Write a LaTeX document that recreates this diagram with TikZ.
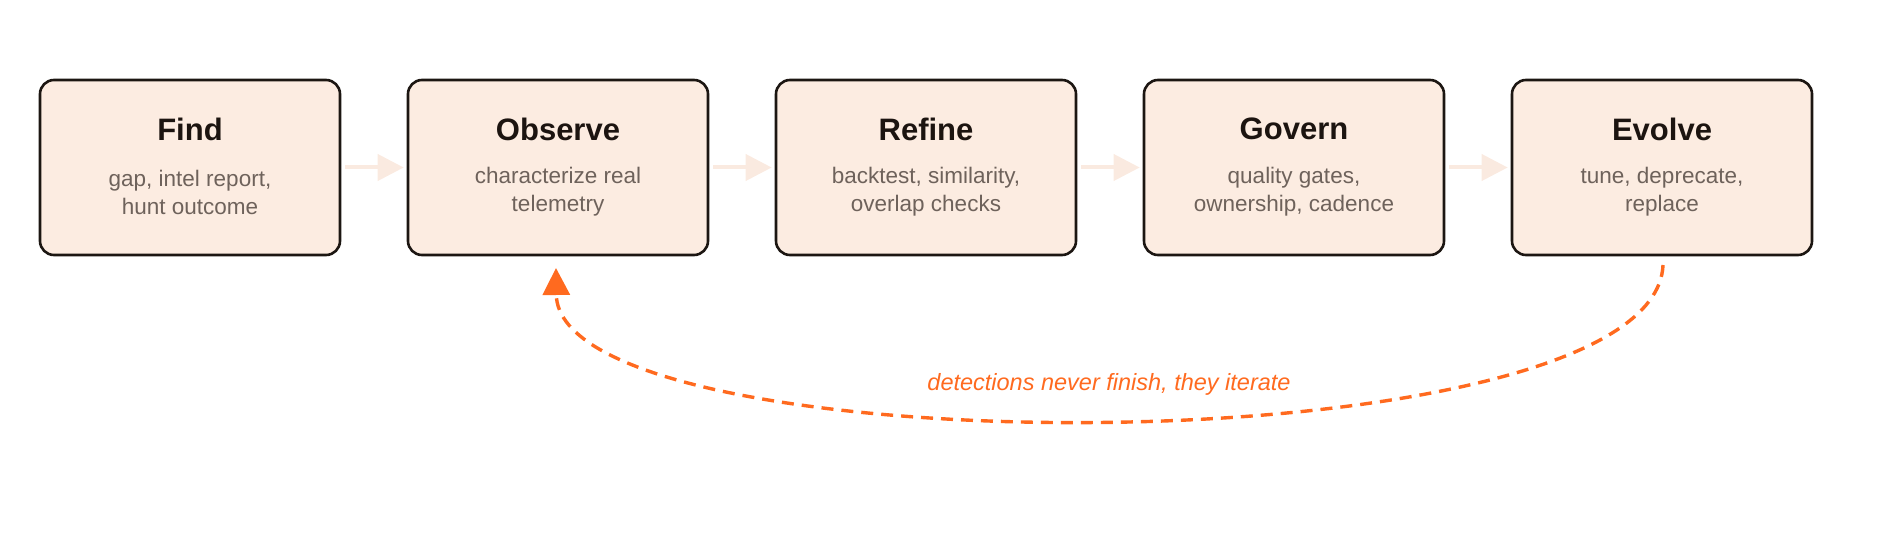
\documentclass[tikz,border=0pt]{standalone}
\usepackage{fontspec}
\setmainfont{Liberation Sans}
\usetikzlibrary{arrows.meta}
\definecolor{boxfill}{HTML}{FCECE1}
\definecolor{boxline}{HTML}{1C1612}
\definecolor{titlecol}{HTML}{1C1410}
\definecolor{subcol}{HTML}{6E625B}
\definecolor{flowcol}{HTML}{FAEAE0}
\definecolor{loopcol}{HTML}{FF6A1F}
\tikzset{
  stagebox/.style={draw=boxline, fill=boxfill, line width=2.6pt, rounded corners=14pt,
    minimum width=300pt, minimum height=175pt, inner sep=0pt},
  stagetitle/.style={font=\fontsize{31}{36}\selectfont\bfseries, text=titlecol, inner sep=0pt},
  stagesub/.style={font=\fontsize{22.5}{28}\selectfont, text=subcol, align=center, inner sep=0pt},
  flow/.style={draw=flowcol, line width=4pt, -{Triangle[length=26pt,width=26pt]}, shorten <=4pt, shorten >=3pt},
  loop/.style={draw=loopcol, line width=3.4pt, dash pattern=on 12pt off 8pt, -{Triangle[length=27pt,width=27pt]}},
  looplabel/.style={font=\fontsize{23.5}{28}\selectfont\itshape, text=loopcol, inner sep=2pt}
}
\begin{document}
\begin{tikzpicture}[x=1pt,y=-1pt]
\useasboundingbox (0,0) rectangle (1880,540);
\foreach \n/\x/\t/\s in {find/190/Find/{gap, intel report,\\hunt outcome},
  observe/558/Observe/{characterize real\\telemetry},
  refine/926/Refine/{backtest, similarity,\\overlap checks},
  govern/1294/Govern/{quality gates,\\ownership, cadence},
  evolve/1662/Evolve/{tune, deprecate,\\replace}}{
  \node[stagebox] (\n) at (\x,167.5) {};
  \node[stagetitle] (\n-t) at (\x,129) {\t};
  \node[stagesub] (\n-s) at (\x,192) {\s};
}
\draw[flow] (find) -- (observe);
\draw[flow] (observe) -- (refine);
\draw[flow] (refine) -- (govern);
\draw[flow] (govern) -- (evolve);
\coordinate (ls) at (1663,265);
\coordinate (le) at (556,268);
\draw[loop] (ls) .. controls (1655,470) and (558,470) .. (le);
\node[looplabel] (lbl) at (1109,384) {detections never finish, they iterate};
\end{tikzpicture}
\end{document}
